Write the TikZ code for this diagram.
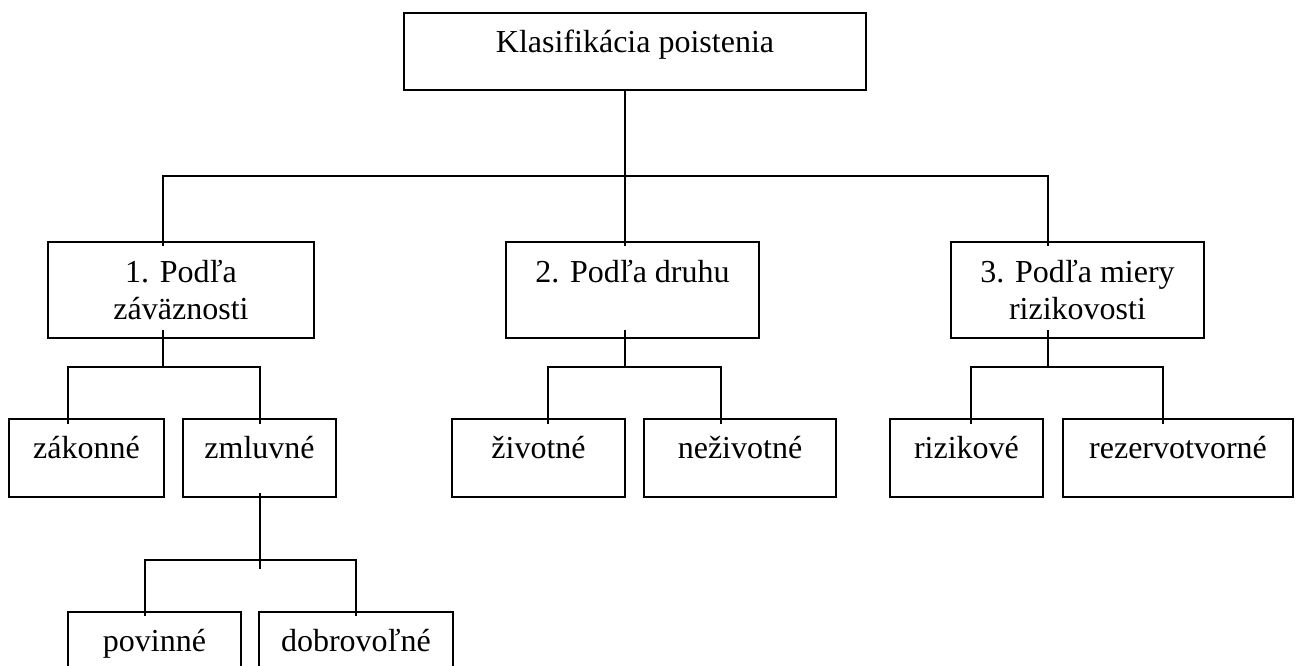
\documentclass[tikz,border=0pt]{standalone}
\usepackage{fontspec}
\setmainfont{Liberation Serif}
\begin{document}
\begin{tikzpicture}[x=1pt,y=-1pt,
  box/.style={draw=black, line width=1.8pt, rectangle, inner sep=0pt},
  lbl/.style={font=\fontsize{32}{37}\selectfont, inner sep=0pt, anchor=base, text=black},
  conn/.style={draw=black, line width=1.8pt}]
\useasboundingbox (0,0) rectangle (1298,666);
\clip (0,0) rectangle (1298,666);
\fill[white] (0,0) rectangle (1298,666);

% boxes
\node[box, minimum width=462pt, minimum height=77pt] (k) at (635,51.5) {};
\node[box, minimum width=266pt, minimum height=96pt] (b1) at (181,290) {};
\node[box, minimum width=253pt, minimum height=96pt] (b2) at (632.5,290) {};
\node[box, minimum width=253pt, minimum height=96pt] (b3) at (1077.5,290) {};
\node[box, minimum width=155pt, minimum height=78pt] (za) at (86.5,458) {};
\node[box, minimum width=153pt, minimum height=78pt] (zm) at (259.5,458) {};
\node[box, minimum width=173pt, minimum height=78pt] (zi) at (538.5,458) {};
\node[box, minimum width=192pt, minimum height=78pt] (ne) at (740,458) {};
\node[box, minimum width=153pt, minimum height=78pt] (ri) at (966.5,458) {};
\node[box, minimum width=230pt, minimum height=78pt] (re) at (1178,458) {};
\node[box, minimum width=173pt, minimum height=78pt] (po) at (154.5,651) {};
\node[box, minimum width=194pt, minimum height=78pt] (dob) at (356,651) {};

% texts
\node[lbl] (kt) at ([yshift=-40pt]k.north) {Klasifikácia poistenia};
\node[lbl] (b1t) at ([yshift=-41pt]b1.north) {1. Podľa};
\node[lbl] (b1u) at ([yshift=-78pt]b1.north) {záväznosti};
\node[lbl] (b2t) at ([yshift=-41pt]b2.north) {2. Podľa druhu};
\node[lbl] (b3t) at ([yshift=-41pt]b3.north) {3. Podľa miery};
\node[lbl] (b3u) at ([yshift=-78pt]b3.north) {rizikovosti};
\node[lbl] (zat) at ([yshift=-40pt]za.north) {zákonné};
\node[lbl] (zmt) at ([yshift=-40pt]zm.north) {zmluvné};
\node[lbl] (zit) at ([yshift=-40pt]zi.north) {životné};
\node[lbl] (net) at ([yshift=-40pt]ne.north) {neživotné};
\node[lbl] (rit) at ([yshift=-40pt]ri.north) {rizikové};
\node[lbl] (ret) at ([yshift=-40pt]re.north) {rezervotvorné};
\node[lbl] (pot) at ([yshift=-40pt]po.north) {povinné};
\node[lbl] (dot) at ([yshift=-40pt]dob.north) {dobrovoľné};

% junction coordinates
\coordinate (j0) at (625,176);
\coordinate (t1) at (163,176);
\coordinate (t3) at (1048,176);
\coordinate (u1) at (163,367);
\coordinate (u1l) at (68,367);
\coordinate (u1r) at (260,367);
\coordinate (u2) at (625,367);
\coordinate (u2l) at (548,367);
\coordinate (u2r) at (721,367);
\coordinate (u3) at (1048,367);
\coordinate (u3l) at (971,367);
\coordinate (u3r) at (1163,367);
\coordinate (v1) at (260,560);
\coordinate (v1e) at (260,569);
\coordinate (v1l) at (145,560);
\coordinate (v1r) at (356,560);

% level 1
\draw[conn] (k.south -| j0) -- ([yshift=-5pt]b2.north -| j0);
\draw[conn] ([yshift=-5pt]b1.north -| t1) -- (t1) -- (t3) -- ([yshift=-5pt]b3.north -| t3);

% under b1
\draw[conn] ([yshift=9pt]b1.south -| u1) -- (u1);
\draw[conn] ([yshift=-6pt]za.north -| u1l) -- (u1l) -- (u1r) -- ([yshift=-6pt]zm.north -| u1r);
% under b2
\draw[conn] ([yshift=9pt]b2.south -| u2) -- (u2);
\draw[conn] ([yshift=-6pt]zi.north -| u2l) -- (u2l) -- (u2r) -- ([yshift=-6pt]ne.north -| u2r);
% under b3
\draw[conn] ([yshift=9pt]b3.south -| u3) -- (u3);
\draw[conn] ([yshift=-6pt]ri.north -| u3l) -- (u3l) -- (u3r) -- ([yshift=-6pt]re.north -| u3r);
% under zmluvne
\draw[conn] ([yshift=5pt]zm.south -| v1) -- (v1e);
\draw[conn] ([yshift=-5pt]po.north -| v1l) -- (v1l) -- (v1r) -- ([yshift=-5pt]dob.north -| v1r);
\end{tikzpicture}
\end{document}
